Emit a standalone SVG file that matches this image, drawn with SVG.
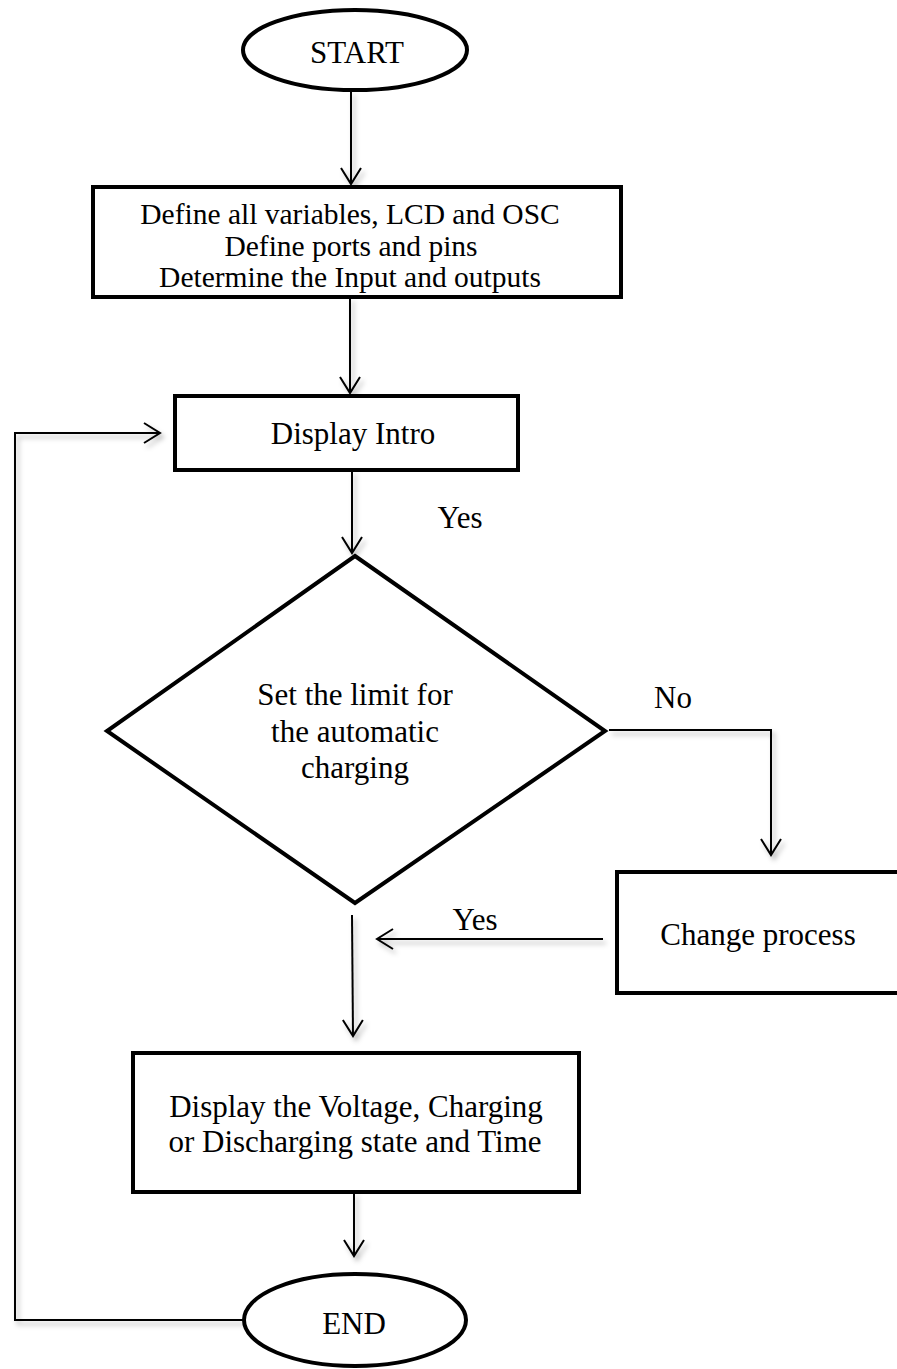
<svg xmlns="http://www.w3.org/2000/svg" width="897" height="1369" viewBox="0 0 897 1369">
<defs>
<style>
.t{font-family:"Liberation Serif","Times New Roman",serif;font-size:31px;fill:#000;text-anchor:middle}
.d{font-size:29.5px}
.s{fill:#fff;stroke:#000;stroke-width:4}
.c{fill:none;stroke:#000;stroke-width:2}
</style>
<filter id="sh" x="-20%" y="-20%" width="140%" height="140%">
<feDropShadow dx="3" dy="4" stdDeviation="2.5" flood-color="#000" flood-opacity="0.28"/>
</filter>
<marker id="ah" viewBox="-18 -12 20 24" markerWidth="20" markerHeight="24" refX="0" refY="0" orient="auto" markerUnits="userSpaceOnUse">
<path d="M-16,-10 L0,0 L-16,10" fill="none" stroke="#000" stroke-width="2"/>
</marker>
</defs>
<g id="connectors" filter="url(#sh)">
<line class="c" x1="351" y1="91" x2="351" y2="184" marker-end="url(#ah)"/>
<line class="c" x1="350" y1="297" x2="350" y2="393" marker-end="url(#ah)"/>
<line class="c" x1="352" y1="470" x2="352" y2="553" marker-end="url(#ah)"/>
<polyline class="c" points="609,730 771,730 771,855" marker-end="url(#ah)"/>
<line class="c" x1="603" y1="939" x2="377" y2="939" marker-end="url(#ah)"/>
<line class="c" x1="352" y1="915" x2="353" y2="1036" marker-end="url(#ah)"/>
<line class="c" x1="354" y1="1192" x2="354" y2="1256" marker-end="url(#ah)"/>
<polyline class="c" points="244,1320 15,1320 15,433 160,433" marker-end="url(#ah)"/>
</g>
<g id="start">
<ellipse class="s" cx="355" cy="50" rx="112" ry="40"/>
<text class="t" x="357" y="63">START</text>
</g>
<g id="define">
<rect class="s" x="93" y="187" width="528" height="110"/>
<text class="t d" x="350" y="224">Define all variables, LCD and OSC</text>
<text class="t d" x="351" y="255.5">Define ports and pins</text>
<text class="t d" x="350" y="287">Determine the Input and outputs</text>
</g>
<g id="intro">
<rect class="s" x="175" y="396" width="343" height="74"/>
<text class="t" x="353" y="444">Display Intro</text>
</g>
<text class="t" x="460" y="528">Yes</text>
<g id="decision">
<polygon class="s" points="355,556 605,731 355,903 107,731" stroke-width="5"/>
<text class="t" x="355" y="705">Set the limit for</text>
<text class="t" x="355" y="742">the automatic</text>
<text class="t" x="355" y="778">charging</text>
</g>
<text class="t" x="673" y="708">No</text>
<g id="change">
<rect class="s" x="617" y="872" width="300" height="121"/>
<text class="t" x="758" y="945">Change process</text>
</g>
<text class="t" x="475" y="930">Yes</text>
<g id="display">
<rect class="s" x="133" y="1053" width="446" height="139"/>
<text class="t" x="356" y="1117">Display the Voltage, Charging</text>
<text class="t" x="355" y="1152">or Discharging state and Time</text>
</g>
<g id="end">
<ellipse class="s" cx="355" cy="1320" rx="111" ry="46"/>
<text class="t" x="354" y="1334">END</text>
</g>
</svg>
